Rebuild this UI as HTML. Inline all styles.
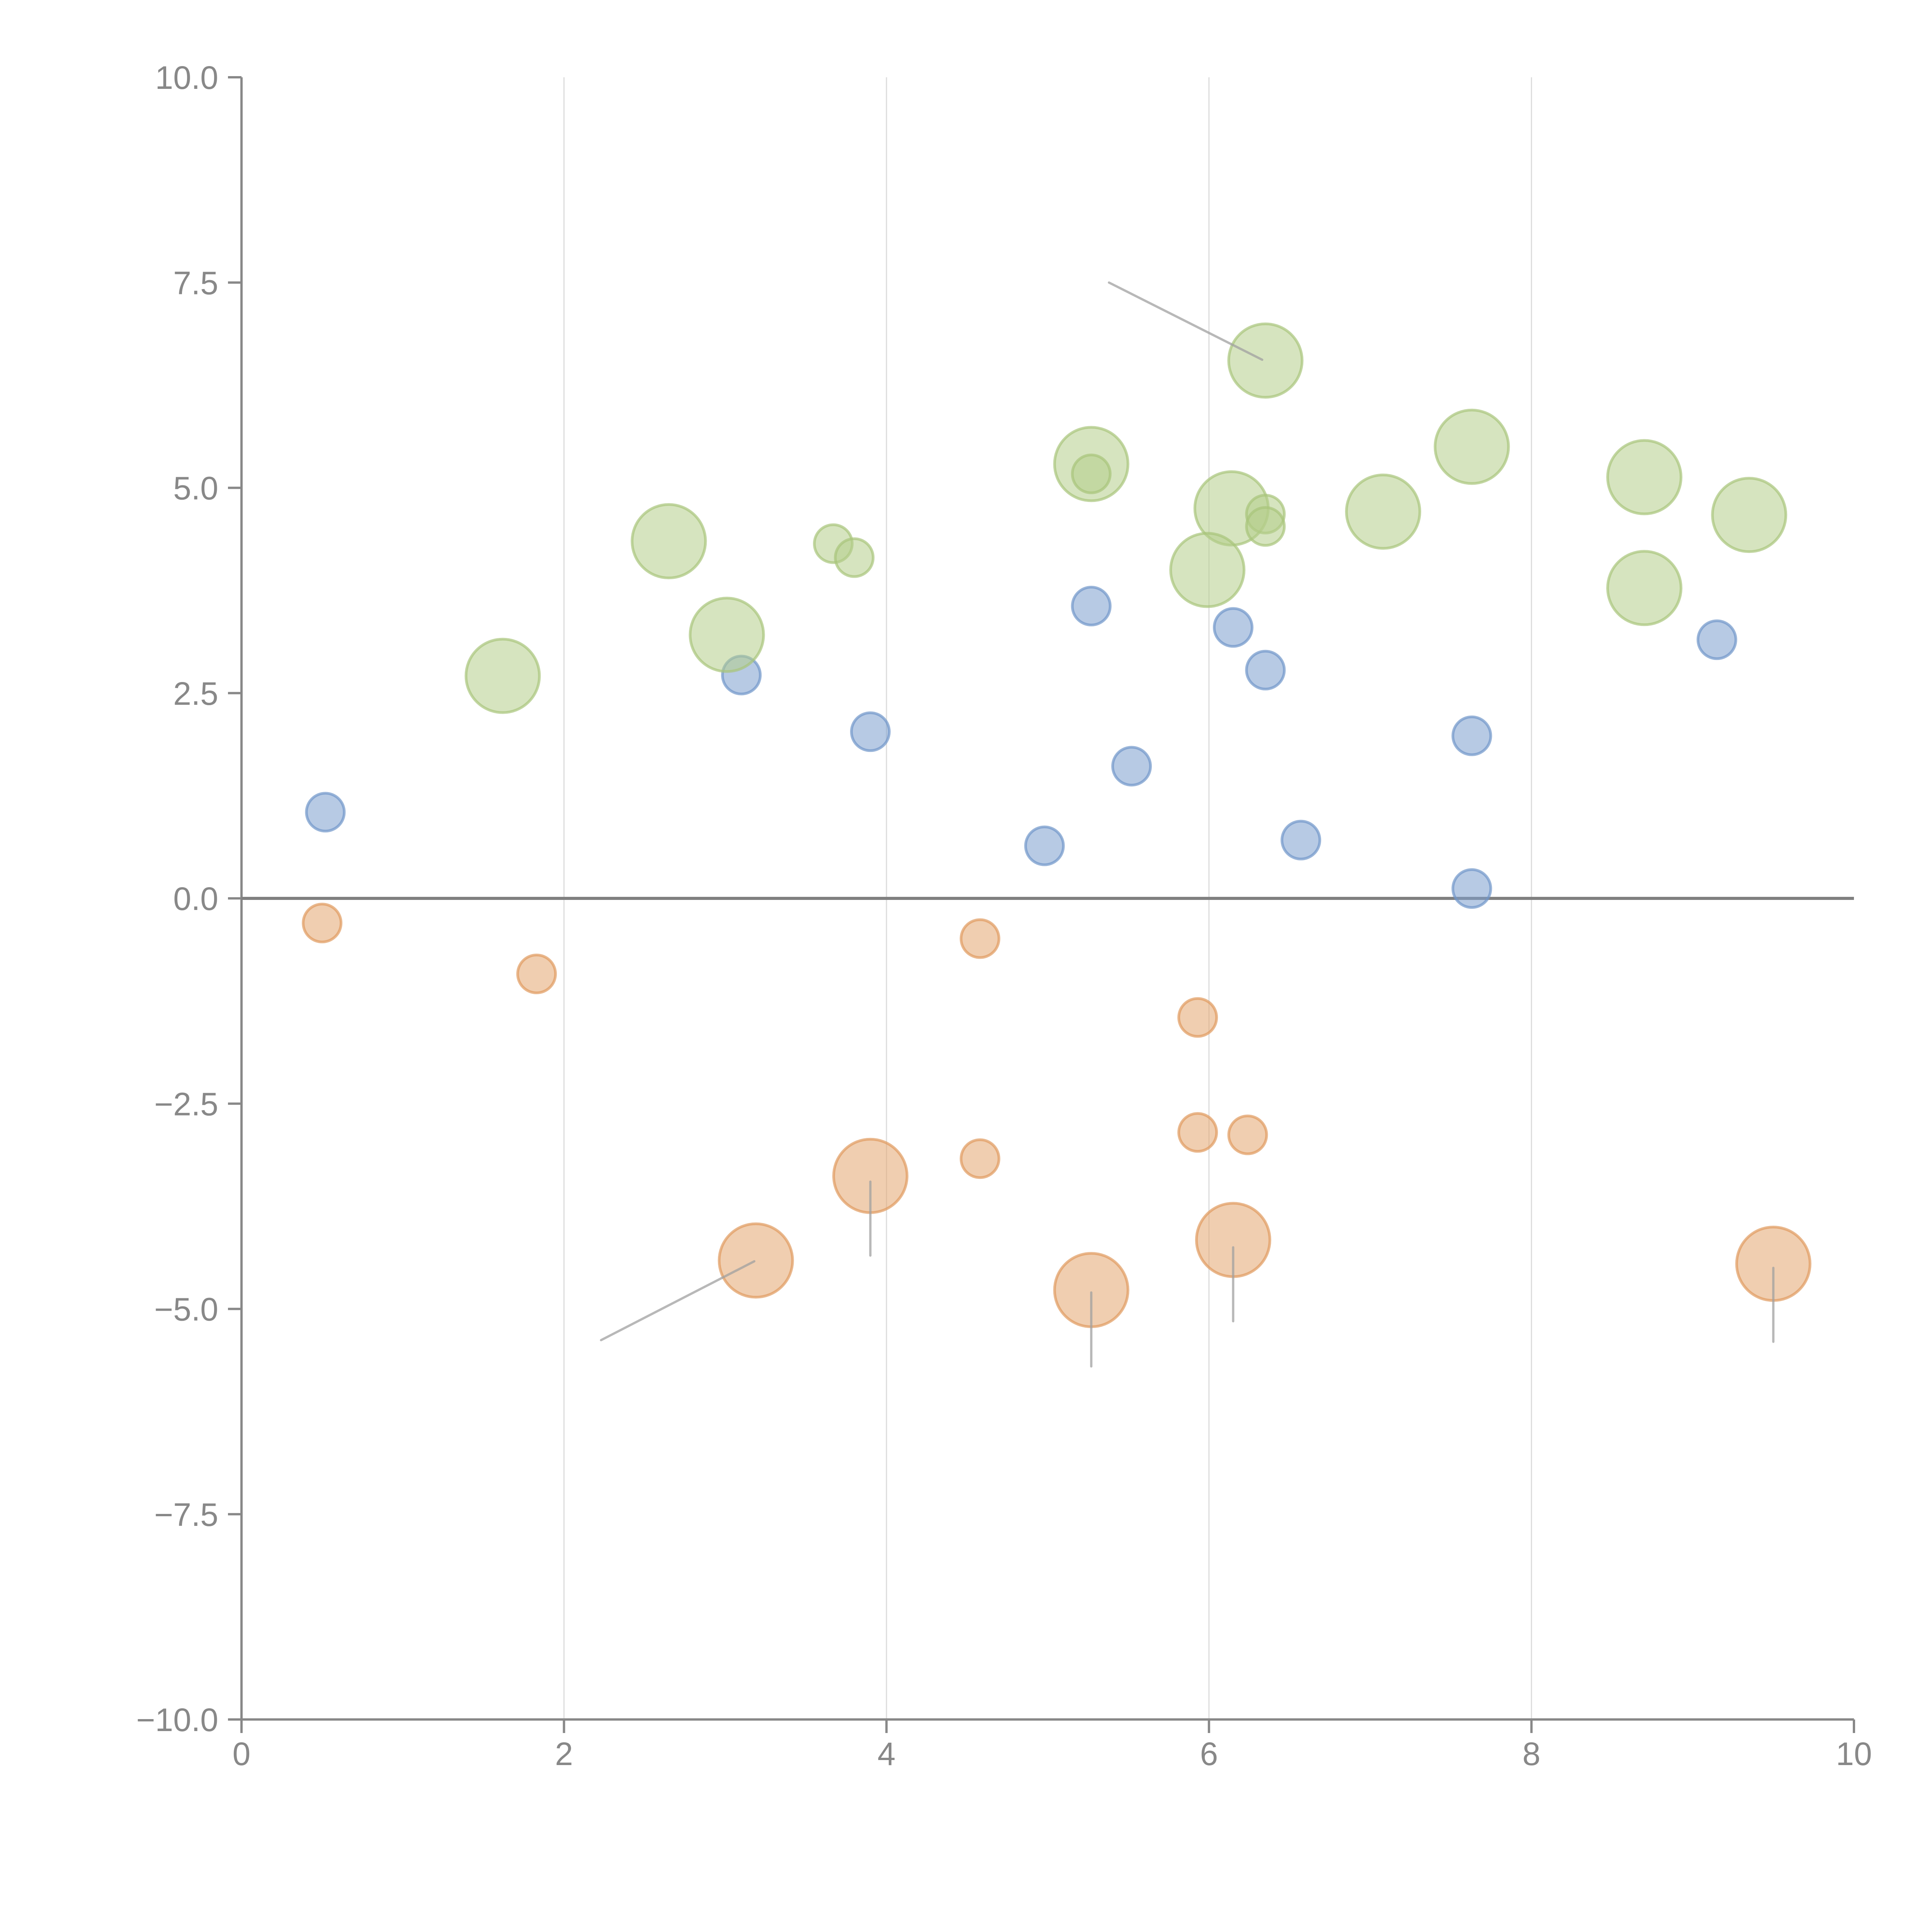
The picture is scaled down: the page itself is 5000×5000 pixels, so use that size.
<!DOCTYPE html>
<html><head><meta charset="utf-8"><style>
html,body{margin:0;padding:0;background:#fff;}
svg{display:block;}
text{font-family:"Liberation Sans",Arial,sans-serif;}
</style></head><body>
<svg id="chart" width="5000" height="5000" viewBox="0 0 5000 5000" xmlns="http://www.w3.org/2000/svg">
<g id="grid"></g>
<g id="axes"></g>
<g id="marks"></g>
<g id="notes"></g>
</svg>
<script>
const xTicks=[0,2,4,6,8,10];
const yTicks=[10,7.5,5,2.5,0,-2.5,-5,-7.5,-10];
const yTickLabels=["10.0","7.5","5.0","2.5","0.0","\u22122.5","\u22125.0","\u22127.5","\u221210.0"];
const blueX=[0.52,3.1,3.9,4.98,5.27,5.52,6.15,6.35,6.57,7.63,7.63,9.15];
const blueY=[1.05,2.72,2.03,0.64,3.56,1.61,3.3,2.78,0.71,1.98,0.12,3.15];
const blueS=[1,1,1,1,1,1,1,1,1,1,1,1];
const orangeX=[0.5,1.83,4.58,5.93,5.93,6.24,4.58,3.9,3.19,5.27,6.15,9.5];
const orangeY=[-0.3,-0.92,-0.49,-1.45,-2.85,-2.88,-3.17,-3.38,-4.41,-4.77,-4.16,-4.45];
const orangeS=[1,1,1,1,1,1,1,2,2,2,2,2];
const greenX=[1.62,2.65,3.01,5.27,6.35,6.14,5.99,7.08,7.63,8.7,8.7,9.35,3.67,3.8,5.27,6.35,6.35];
const greenY=[2.71,4.35,3.21,5.29,6.55,4.75,4.0,4.71,5.5,5.13,3.78,4.67,4.32,4.15,5.17,4.68,4.53];
const greenS=[2,2,2,2,2,2,2,2,2,2,2,2,1,1,1,1,1];
const noteFromX=[5.38,2.23,3.9,5.27,6.15,9.5];
const noteFromY=[7.5,-5.38,-3.45,-4.8,-4.25,-4.5];
const noteToX=[6.33,3.18,3.9,5.27,6.15,9.5];
const noteToY=[6.56,-4.42,-4.35,-5.7,-5.15,-5.4];

const X0=625,X1=4798,Y0=200,Y1=4450;
const sx=v=>X0+(v-0)/(10-0)*(X1-X0);
const sy=v=>Y0+(10-v)/20*(Y1-Y0);
const NS="http://www.w3.org/2000/svg";
function mk(tag,parent,attrs){const e=document.createElementNS(NS,tag);for(const k in attrs)e.setAttribute(k,attrs[k]);parent.appendChild(e);return e;}
const grid=document.getElementById('grid'),axes=document.getElementById('axes'),marks=document.getElementById('marks'),notes=document.getElementById('notes');

xTicks.forEach((t,i)=>{
  if(t>0&&t<10){const g=mk('line',grid,{x1:sx(t),x2:sx(t),y1:Y0,y2:Y1,stroke:'#dcdcdc','stroke-width':3});
  
  }
  const tk=mk('line',axes,{x1:sx(t),x2:sx(t),y1:Y1,y2:Y1+35,stroke:'#888','stroke-width':6});
  
  
  const tx=mk('text',axes,{x:sx(t),y:Y1+118,'text-anchor':'middle','font-size':84,fill:'#888'});
  tx.textContent=t;
  
  
});
yTicks.forEach((t,i)=>{
  const tk=mk('line',axes,{x1:X0-35,x2:X0,y1:sy(t),y2:sy(t),stroke:'#888','stroke-width':6});
  
  
  const tx=mk('text',axes,{x:X0-60,y:sy(t)+30,'text-anchor':'end','font-size':84,fill:'#888'});
  tx.textContent=yTickLabels[i];
  
  
});
const ya=mk('line',axes,{x1:X0,x2:X0,y1:Y0,y2:Y1,stroke:'#888','stroke-width':6});


const xa=mk('line',axes,{x1:X0,x2:X1,y1:Y1,y2:Y1,stroke:'#888','stroke-width':6});


const zl=mk('line',axes,{x1:X0,x2:X1,y1:sy(0),y2:sy(0),stroke:'#808080','stroke-width':8});



function series(xs,ys,ss,fill,stroke,name){
  xs.forEach((x,i)=>{
    const r=ss[i]===2?95:49;
    const c=mk('circle',marks,{cx:sx(x),cy:sy(ys[i]),r:r,fill:fill,'fill-opacity':0.55,stroke:stroke,'stroke-opacity':0.7,'stroke-width':7});
    
    
  });
}
series(blueX,blueY,blueS,'#7b9ecd','#6f95c9','blue-bubble');
series(orangeX,orangeY,orangeS,'#e4a570','#e09a5e','orange-bubble');
series(greenX,greenY,greenS,'#b5cd8a','#a8c47a','green-bubble');

noteFromX.forEach((x,i)=>{
  const l=mk('line',notes,{x1:sx(x),y1:sy(noteFromY[i]),x2:sx(noteToX[i]),y2:sy(noteToY[i]),stroke:'#a0a0a0','stroke-opacity':0.75,'stroke-width':6,'stroke-linecap':'round'});
  
  
});
</script>
</body></html>
